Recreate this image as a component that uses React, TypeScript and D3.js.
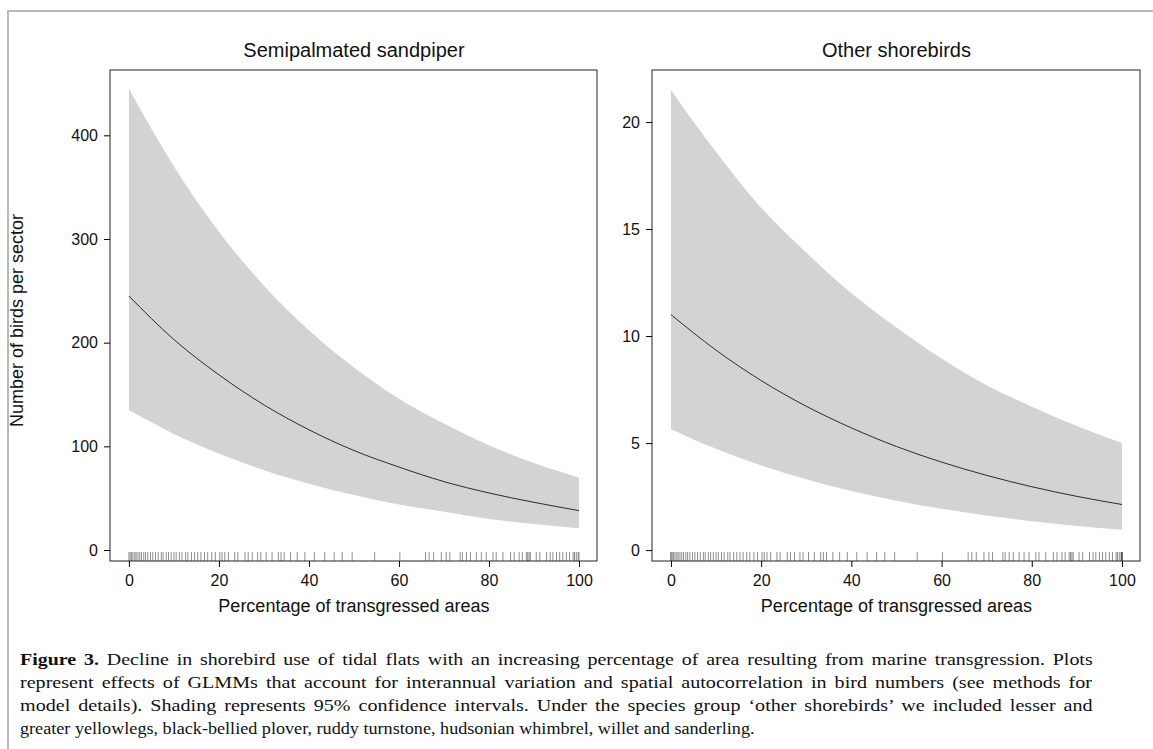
import React, { useRef, useEffect } from 'react';
import * as d3 from 'd3';

// percentage of transgressed area at which the fitted values were read
const pctSteps = [0, 10, 20, 30, 40, 50, 60, 70, 80, 90, 100];

// semipalmated sandpiper: fitted mean and 95% CI
const sandpiperFit = [245, 203, 169, 140, 116, 96, 80, 66, 55, 46, 38];
const sandpiperUpper = [445, 370, 307, 255, 212, 176, 146, 122, 101, 84, 70];
const sandpiperLower = [135, 112, 93, 77, 64, 53, 44, 37, 30, 25, 21];

// other shorebirds: fitted mean and 95% CI
const otherFit = [11, 9.34, 7.92, 6.72, 5.71, 4.84, 4.11, 3.49, 2.96, 2.51, 2.13];
const otherUpper = [21.5, 18.6, 16.0, 13.9, 12.0, 10.4, 8.95, 7.7, 6.7, 5.8, 5.0];
const otherLower = [5.65, 4.73, 3.95, 3.31, 2.76, 2.31, 1.93, 1.62, 1.35, 1.13, 0.95];

const xTicks = [0, 20, 40, 60, 80, 100];
const sandpiperTicks = [0, 100, 200, 300, 400];
const otherTicks = [0, 5, 10, 15, 20];

// observed sector values (rug)
const rugSandpiper = [
  0, 0.3, 0.6, 0.9, 1.3, 1.6, 2, 2.4, 2.8, 3.3, 3.7, 4.2, 4.8, 5.3, 5.9, 6.5, 7.2, 7.6,
  8.3, 8.8, 9.4, 10, 10.5, 11.2, 11.8, 12.6, 13.1, 13.9, 14.6, 15.3, 16, 16.8, 17.5, 18.4,
  19.2, 20.2, 20.7, 21.3, 22.1, 23.5, 24.2, 25.8, 26.5, 27.4, 28.6, 29.3, 30.5, 31.8, 33.2,
  33.8, 34.5, 35.9, 37.4, 39.1, 41.2, 43.5, 45.6, 47.4, 49.6, 54.6, 60.2, 65.9, 66.7, 67.7,
  69.4, 70.5, 71.3, 73.6, 74.1, 75, 75.9, 77.2, 78.3, 79.4, 80.9, 81.6, 83.1, 84.8, 85.6,
  86.7, 87.4, 88.3, 88.6, 88.9, 89.2, 90.5, 91.3, 92.8, 93.6, 94.2, 95, 95.7, 96.4, 97.2,
  97.9, 98.7, 99, 99.4, 99.8, 100,
];
const rugOther = [...rugSandpiper, 0, 100, 100, 100];

const captionLines = [
  'Decline in shorebird use of tidal flats with an increasing percentage of area resulting from marine transgression. Plots',
  'represent effects of GLMMs that account for interannual variation and spatial autocorrelation in bird numbers (see methods for',
  'model details). Shading represents 95% confidence intervals. Under the species group \u2018other shorebirds\u2019 we included lesser and',
  'greater yellowlegs, black-bellied plover, ruddy turnstone, hudsonian whimbrel, willet and sanderling.',
];

const SANS = 'Liberation Sans, Arial, sans-serif';
const SERIF = 'Liberation Serif, Times New Roman, serif';

const App = () => {
  const ref = useRef(null);

  useEffect(() => {
    const svg = d3.select(ref.current)
      .attr('width', 1153)
      .attr('height', 749);

    svg.selectAll('*').remove();

    svg.append('rect').attr('width', 1153).attr('height', 749).attr('fill', '#fff');

    // outer figure frame
    svg.append('path')
      .attr('d', 'M8,749V11H1153')
      .attr('fill', 'none')
      .attr('stroke', '#b8b8b8')
      .attr('stroke-width', 2);

    const top = 70;
    const bottom = 561;

    const panels = [
      {
        title: 'Semipalmated sandpiper', left: 110, right: 597, yDomain: [-10.6, 463],
        fit: sandpiperFit, upper: sandpiperUpper, lower: sandpiperLower,
        ticks: sandpiperTicks, rug: rugSandpiper,
      },
      {
        title: 'Other shorebirds', left: 652, right: 1140, yDomain: [-0.51, 22.43],
        fit: otherFit, upper: otherUpper, lower: otherLower,
        ticks: otherTicks, rug: rugOther,
      },
    ];

    panels.forEach((p, i) => {
      const x = d3.scaleLinear().domain([-4.2, 104]).range([p.left, p.right]);
      const y = d3.scaleLinear().domain(p.yDomain).range([bottom, top]);
      const g = svg.append('g');

      const rows = pctSteps.map((pct, j) => ({ pct, fit: p.fit[j], lo: p.lower[j], hi: p.upper[j] }));

      const band = d3.area()
        .x(d => x(d.pct))
        .y0(d => y(d.lo))
        .y1(d => y(d.hi))
        .curve(d3.curveMonotoneX);

      g.append('path')
        .datum(rows)
        .attr('d', band)
        .attr('fill', '#d3d3d3');

      const line = d3.line()
        .x(d => x(d.pct))
        .y(d => y(d.fit))
        .curve(d3.curveMonotoneX);

      g.append('path')
        .datum(rows)
        .attr('d', line)
        .attr('fill', 'none')
        .attr('stroke', '#2b2b2b')
        .attr('stroke-width', 1);

      g.selectAll('.rug')
        .data(p.rug)
        .enter().append('line')
        .attr('x1', d => x(d))
        .attr('x2', d => x(d))
        .attr('y1', bottom - 9)
        .attr('y2', bottom)
        .attr('stroke', '#333')
        .attr('stroke-opacity', 0.55)
        .attr('stroke-width', 1);

      // plot box
      g.append('rect')
        .attr('x', p.left)
        .attr('y', top)
        .attr('width', p.right - p.left)
        .attr('height', bottom - top)
        .attr('fill', 'none')
        .attr('stroke', '#222')
        .attr('stroke-width', 1);

      const yAxis = g.append('g')
        .attr('transform', `translate(${p.left},0)`)
        .call(d3.axisLeft(y).tickValues(p.ticks).tickSize(6).tickPadding(6));
      yAxis.select('.domain').remove();
      yAxis.selectAll('text').attr('font-size', 16).attr('font-family', SANS).attr('fill', '#111');

      const xAxis = g.append('g')
        .attr('transform', `translate(0,${bottom})`)
        .call(d3.axisBottom(x).tickValues(xTicks).tickSize(6).tickPadding(8));
      xAxis.select('.domain').remove();
      xAxis.selectAll('text').attr('font-size', 16).attr('font-family', SANS).attr('fill', '#111');

      const mid = (x(0) + x(100)) / 2;

      g.append('text')
        .attr('x', mid)
        .attr('y', 57)
        .attr('text-anchor', 'middle')
        .attr('font-family', SANS)
        .attr('font-size', 20)
        .attr('fill', '#111')
        .text(p.title);

      g.append('text')
        .attr('x', mid)
        .attr('y', 612)
        .attr('text-anchor', 'middle')
        .attr('font-family', SANS)
        .attr('font-size', 18)
        .attr('fill', '#111')
        .text('Percentage of transgressed areas');

      if (i === 0) {
        g.append('text')
          .attr('transform', `translate(23,${(top + bottom) / 2 + 5}) rotate(-90)`)
          .attr('text-anchor', 'middle')
          .attr('font-family', SANS)
          .attr('font-size', 18)
          .attr('fill', '#111')
          .text('Number of birds per sector');
      }
    });

    // caption: condensed serif, first three lines justified
    const cap = svg.append('g')
      .attr('font-family', SERIF)
      .attr('font-size', 17)
      .attr('fill', '#111');

    const texts = captionLines.map((txt, i) => {
      const t = cap.append('text').attr('x', 0).attr('y', 0);
      if (i === 0) {
        t.append('tspan').attr('font-weight', 'bold').text('Figure 3. ');
      }
      t.append('tspan').text(txt);
      return t;
    });

    const natural = texts.map(t => (t.node() as any).getComputedTextLength());
    const s = 735 / natural[3];

    texts.forEach((t, i) => {
      let sc = s;
      if (i < 3) {
        const spaces = (t.text().match(/ /g) || []).length;
        sc = Math.max(s, 1073 / (natural[i] + spaces * 2.5));
        const extra = Math.max(0, (1073 / sc - natural[i]) / spaces);
        t.attr('word-spacing', extra);
      }
      t.attr('transform', `translate(20,${665 + i * 23}) scale(${sc},1)`);
    });
  }, []);

  return <svg ref={ref} style={{ position: 'absolute', left: 0, top: 0 }}></svg>;
};

export default App;
